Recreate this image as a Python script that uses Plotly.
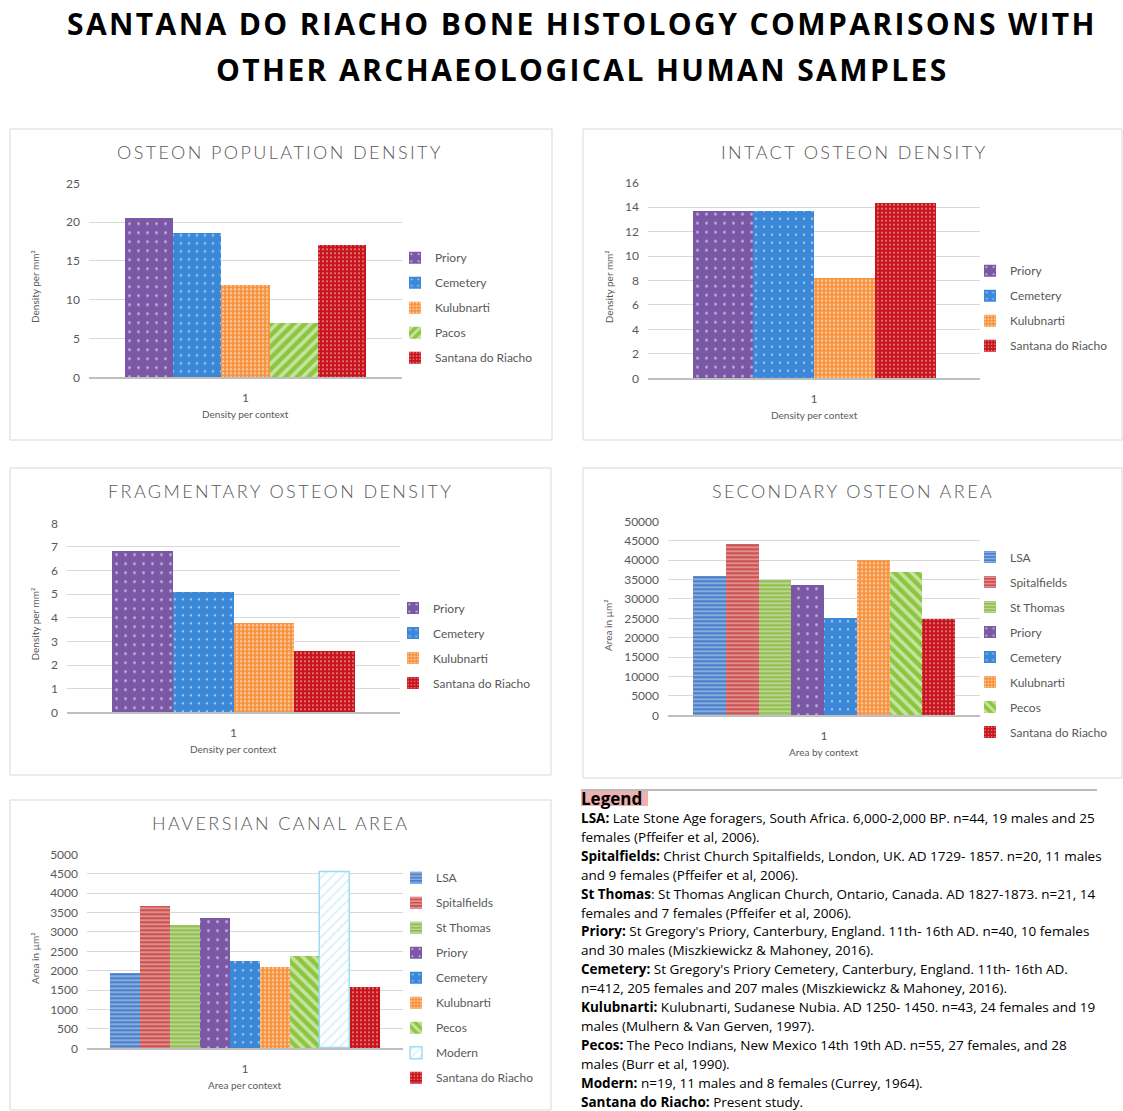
import plotly.graph_objects as go

W, H = 1123, 1111

# ---------------- data ----------------
category = ["1"]

ops_groups = ["Priory", "Cemetery", "Kulubnarti", "Pacos", "Santana do Riacho"]
ops_values = [20.5, 18.5, 11.8, 6.9, 17.0]

ios_groups = ["Priory", "Cemetery", "Kulubnarti", "Santana do Riacho"]
ios_values = [13.7, 13.7, 8.2, 14.4]

fos_groups = ["Priory", "Cemetery", "Kulubnarti", "Santana do Riacho"]
fos_values = [6.8, 5.1, 3.75, 2.6]

soa_groups = ["LSA", "Spitalfields", "St Thomas", "Priory", "Cemetery",
              "Kulubnarti", "Pecos", "Santana do Riacho"]
soa_values = [35800, 44200, 34800, 33400, 24900, 39900, 36800, 24800]

hca_groups = ["LSA", "Spitalfields", "St Thomas", "Priory", "Cemetery",
              "Kulubnarti", "Pecos", "Modern", "Santana do Riacho"]
hca_values = [1930, 3650, 3180, 3350, 2240, 2100, 2360, 4530, 1560]

legend_lines = [
    "<b>LSA:</b> Late Stone Age foragers, South Africa. 6,000-2,000 BP. n=44, 19 males and 25",
    "females (Pffeifer et al, 2006).",
    "<b>Spitalfields:</b> Christ Church Spitalfields, London, UK. AD 1729- 1857. n=20, 11 males",
    "and 9 females (Pffeifer et al, 2006).",
    "<b>St Thomas</b>: St Thomas Anglican Church, Ontario, Canada. AD 1827-1873. n=21, 14",
    "females and 7 females (Pffeifer et al, 2006).",
    "<b>Priory:</b> St Gregory's Priory, Canterbury, England. 11th- 16th AD. n=40, 10 females",
    "and 30 males (Miszkiewickz &amp; Mahoney, 2016).",
    "<b>Cemetery:</b> St Gregory's Priory Cemetery, Canterbury, England. 11th- 16th AD.",
    "n=412, 205 females and 207 males (Miszkiewickz &amp; Mahoney, 2016).",
    "<b>Kulubnarti:</b> Kulubnarti, Sudanese Nubia. AD 1250- 1450. n=43, 24 females and 19",
    "males (Mulhern &amp; Van Gerven, 1997).",
    "<b>Pecos:</b> The Peco Indians, New Mexico 14th 19th AD. n=55, 27 females, and 28",
    "males (Burr et al, 1990).",
    "<b>Modern:</b> n=19, 11 males and 8 females (Currey, 1964).",
    "<b>Santana do Riacho:</b> Present study.",
]

# ---------------- styles ----------------
GREY = "#595959"
FONT = "Lato"
TEXTFONT = "Open Sans"

STYLE = {
    "LSA": dict(color="#4A80CB", pattern=dict(shape="-", fgcolor="white", fillmode="overlay", size=4, solidity=0.35)),
    "Spitalfields": dict(color="#CC5250", pattern=dict(shape="-", fgcolor="white", fillmode="overlay", size=4, solidity=0.35)),
    "St Thomas": dict(color="#93BE52", pattern=dict(shape="-", fgcolor="white", fillmode="overlay", size=4, solidity=0.35)),
    "Priory": dict(color="#7B58A6", pattern=dict(shape=".", fgcolor="white", fillmode="overlay", size=9, solidity=0.08)),
    "Cemetery": dict(color="#3C88D8", pattern=dict(shape=".", fgcolor="white", fillmode="overlay", size=8, solidity=0.08)),
    "Kulubnarti": dict(color="#F7933F", pattern=dict(shape=".", fgcolor="white", fillmode="overlay", size=4, solidity=0.3)),
    "Pacos": dict(color="#8CC63F", pattern=dict(shape="/", fgcolor="white", fillmode="overlay", size=8, solidity=0.45)),
    "Pecos": dict(color="#8CC63F", pattern=dict(shape="\\", fgcolor="white", fillmode="overlay", size=8, solidity=0.45)),
    "Modern": dict(color="white", pattern=dict(shape="/", fgcolor="#9DDCF0", fillmode="overlay", size=7, solidity=0.2),
                   line=dict(color="#9DDCF0", width=1.5)),
    "Santana do Riacho": dict(color="#C8141C", pattern=dict(shape=".", fgcolor="white", fillmode="overlay", size=4, solidity=0.2)),
}


def fx(px):
    return px / W


def fy(py):
    return 1 - py / H


# panel geometry in pixels
panels = [
    dict(groups=ops_groups, values=ops_values, ymax=25, dtick=5,
         title="OSTEON POPULATION DENSITY", ytitle="Density per mm²", xtitle="Density per context",
         box=(10, 129, 552, 440), px=(89, 402), py=(183.3, 377.3), bars=(125, 366),
         tx=280, ty=152, ytx=35, xty=414, lx=435, ly=252.7),
    dict(groups=ios_groups, values=ios_values, ymax=16, dtick=2,
         title="INTACT OSTEON DENSITY", ytitle="Density per mm²", xtitle="Density per context",
         box=(583, 129, 1122, 440), px=(648, 980), py=(182.7, 378.3), bars=(693, 936),
         tx=854, ty=152, ytx=609, xty=415, lx=1010, ly=265.7),
    dict(groups=fos_groups, values=fos_values, ymax=8, dtick=1,
         title="FRAGMENTARY OSTEON DENSITY", ytitle="Density per mm²", xtitle="Density per context",
         box=(10, 468, 551, 775), px=(67, 400), py=(523.3, 712.3), bars=(112, 355),
         tx=280, ty=491, ytx=35, xty=749, lx=433, ly=603),
    dict(groups=soa_groups, values=soa_values, ymax=50000, dtick=5000,
         title="SECONDARY OSTEON AREA", ytitle="Area in µm²", xtitle="Area by context",
         box=(583, 468, 1122, 778), px=(668, 980), py=(521.3, 715.3), bars=(693, 955),
         tx=853, ty=491, ytx=608, xty=752, lx=1010, ly=552),
    dict(groups=hca_groups, values=hca_values, ymax=5000, dtick=500,
         title="HAVERSIAN CANAL AREA", ytitle="Area in µm²", xtitle="Area per context",
         box=(10, 800, 551, 1110), px=(87, 403), py=(854.3, 1048.3), bars=(110, 380),
         tx=280, ty=823, ytx=35, xty=1085, lx=436, ly=872.7),
]

fig = go.Figure()
shapes = []
annotations = []
layout = {}

for i, p in enumerate(panels, start=1):
    sfx = "" if i == 1 else str(i)
    xa, ya, lg = "x" + sfx, "y" + sfx, "legend" + sfx
    for name, val in zip(p["groups"], p["values"]):
        st = STYLE[name]
        marker = dict(color=st["color"], pattern=st["pattern"],
                      line=st.get("line", dict(width=0)))
        fig.add_trace(go.Bar(x=category, y=[val], name=name, marker=marker,
                             xaxis=xa, yaxis=ya, legend=lg,
                             legendgroup=f"p{i}_{name}", hoverinfo="name+y"))
    frac = (p["bars"][1] - p["bars"][0]) / (p["px"][1] - p["px"][0])
    half = 0.5 / frac
    layout["xaxis" + sfx] = dict(
        domain=[fx(p["px"][0]), fx(p["px"][1])], anchor=ya, type="category",
        range=[-half, half], showgrid=False, showline=True, linecolor="#BFBFBF",
        linewidth=1.5, ticks="", tickfont=dict(family=FONT, size=12, color=GREY),
        ticklabelstandoff=9, zeroline=False, fixedrange=True, automargin=False)
    layout["yaxis" + sfx] = dict(
        domain=[fy(p["py"][1]), fy(p["py"][0])], anchor=xa, range=[0, p["ymax"]],
        dtick=p["dtick"], tickformat="d", showgrid=True, gridcolor="#D9D9D9",
        gridwidth=1, zeroline=False, showline=False, ticks="",
        tickfont=dict(family=FONT, size=12, color=GREY), ticklabelstandoff=8,
        fixedrange=True, automargin=False)
    layout[lg] = dict(
        x=fx(p["lx"] - 40), y=fy(p["ly"] - 9.5), xanchor="left", yanchor="top",
        xref="paper", yref="paper", bgcolor="rgba(0,0,0,0)", borderwidth=0,
        font=dict(family=FONT, size=12, color=GREY), tracegroupgap=6,
        traceorder="grouped")
    x0, y0, x1, y1 = p["box"]
    shapes.append(dict(type="rect", xref="paper", yref="paper", x0=fx(x0), x1=fx(x1),
                       y0=fy(y1), y1=fy(y0), line=dict(color="#D9D9D9", width=1),
                       fillcolor="rgba(0,0,0,0)", layer="below"))
    annotations.append(dict(
        text=f'<span style="letter-spacing:2.4px">{p["title"]}</span>',
        x=fx(p["tx"]), y=fy(p["ty"]), xref="paper", yref="paper", showarrow=False,
        xanchor="center", yanchor="middle",
        font=dict(family=FONT, size=18, color=GREY, weight=300)))
    annotations.append(dict(
        text=p["ytitle"], x=fx(p["ytx"]), y=(fy(p["py"][0]) + fy(p["py"][1])) / 2 - 0.006,
        xref="paper", yref="paper", showarrow=False, textangle=-90,
        xanchor="center", yanchor="middle", font=dict(family=FONT, size=10, color=GREY)))
    annotations.append(dict(
        text=p["xtitle"], x=(fx(p["px"][0]) + fx(p["px"][1])) / 2, y=fy(p["xty"]),
        xref="paper", yref="paper", showarrow=False, xanchor="center", yanchor="middle",
        font=dict(family=FONT, size=10, color=GREY)))

# main title
for txt, ty in [("SANTANA DO RIACHO BONE HISTOLOGY COMPARISONS WITH", 23),
                ("OTHER ARCHAEOLOGICAL HUMAN SAMPLES", 69)]:
    annotations.append(dict(text=f'<span style="letter-spacing:2.4px">{txt}</span>',
                            x=fx(582), y=fy(ty), xref="paper", yref="paper", showarrow=False,
                            xanchor="center", yanchor="middle",
                            font=dict(family=TEXTFONT, size=30, color="black", weight="bold")))

# legend text block
shapes.append(dict(type="line", xref="paper", yref="paper", x0=fx(581), x1=fx(1097),
                   y0=fy(790), y1=fy(790), line=dict(color="#A6A6A6", width=1.5)))
shapes.append(dict(type="rect", xref="paper", yref="paper", x0=fx(581), x1=fx(648),
                   y0=fy(806), y1=fy(791), line=dict(width=0), fillcolor="#EDB2B0",
                   layer="below"))
annotations.append(dict(text="<b>Legend</b>", x=fx(580), y=fy(798.5), xref="paper", yref="paper",
                        showarrow=False, xanchor="left", yanchor="middle", borderpad=0,
                        font=dict(family=TEXTFONT, size=17, color="black")))
for k, line in enumerate(legend_lines):
    annotations.append(dict(text=line, x=fx(580), y=fy(818 + k * 18.9), xref="paper",
                            yref="paper", showarrow=False, xanchor="left", yanchor="middle",
                            borderpad=0,
                            font=dict(family=TEXTFONT, size=13.5, color="black")))

fig.update_layout(
    width=W, height=H, margin=dict(l=0, r=0, t=0, b=0, autoexpand=False),
    paper_bgcolor="white", plot_bgcolor="white",
    barmode="group", bargap=0, bargroupgap=0,
    shapes=shapes, annotations=annotations, showlegend=True,
    **layout,
)

fig.write_html("out.html", config={"displayModeBar": False},
               post_script="document.body.style.margin='0';document.body.style.padding='0';")
